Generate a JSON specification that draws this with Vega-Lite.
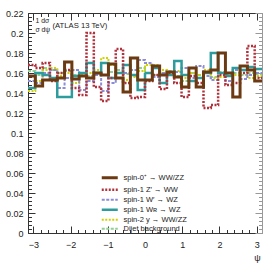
{
  "$schema": "https://vega.github.io/schema/vega-lite/v6.json",
  "width": 234,
  "height": 220,
  "autosize": {"type": "none"},
  "padding": {"left": 28, "top": 13, "right": 14, "bottom": 35},
  "background": "white",
  "config": {
    "view": {"stroke": null},
    "font": "Liberation Sans",
    "axis": {"grid": false, "labelFont": "Liberation Sans", "labelFontSize": 9, "labelColor": "#222", "tickColor": "#333", "domainColor": "#333", "domainWidth": 1, "tickWidth": 1, "labelFlush": false, "labelOverlap": false, "titleFont": "Liberation Sans", "titleFontWeight": "normal", "titleColor": "#222"},
    "legend": {"orient": "none", "legendX": 82, "legendY": 161, "title": null, "symbolType": "M-3,0H1", "symbolSize": 64, "labelFontSize": 7.5, "labelFont": "Liberation Sans", "labelColor": "#222", "rowPadding": 0, "padding": 0, "labelOffset": 6}
  },
  "data": {"values": [
    {"x": -3.1416, "a": 0.157, "b": 0.168, "c": 0.152, "d": 0.145, "e": 0.142, "f": 0.162},
    {"x": -2.9452, "a": 0.147, "b": 0.165, "c": 0.150, "d": 0.160, "e": 0.152, "f": 0.158},
    {"x": -2.7489, "a": 0.153, "b": 0.170, "c": 0.160, "d": 0.158, "e": 0.163, "f": 0.165},
    {"x": -2.5525, "a": 0.153, "b": 0.152, "c": 0.163, "d": 0.155, "e": 0.165, "f": 0.163},
    {"x": -2.3562, "a": 0.155, "b": 0.160, "c": 0.145, "d": 0.136, "e": 0.157, "f": 0.160},
    {"x": -2.1598, "a": 0.171, "b": 0.163, "c": 0.155, "d": 0.136, "e": 0.160, "f": 0.162},
    {"x": -1.9635, "a": 0.154, "b": 0.145, "c": 0.163, "d": 0.157, "e": 0.150, "f": 0.158},
    {"x": -1.7671, "a": 0.157, "b": 0.138, "c": 0.143, "d": 0.160, "e": 0.158, "f": 0.160},
    {"x": -1.5708, "a": 0.155, "b": 0.200, "c": 0.152, "d": 0.170, "e": 0.160, "f": 0.157},
    {"x": -1.3744, "a": 0.160, "b": 0.146, "c": 0.158, "d": 0.160, "e": 0.163, "f": 0.160},
    {"x": -1.1781, "a": 0.158, "b": 0.132, "c": 0.142, "d": 0.170, "e": 0.175, "f": 0.158},
    {"x": -0.9817, "a": 0.169, "b": 0.155, "c": 0.150, "d": 0.155, "e": 0.168, "f": 0.161},
    {"x": -0.7854, "a": 0.155, "b": 0.184, "c": 0.155, "d": 0.160, "e": 0.160, "f": 0.163},
    {"x": -0.589, "a": 0.141, "b": 0.150, "c": 0.160, "d": 0.168, "e": 0.153, "f": 0.159},
    {"x": -0.3927, "a": 0.175, "b": 0.135, "c": 0.163, "d": 0.158, "e": 0.156, "f": 0.157},
    {"x": -0.1963, "a": 0.153, "b": 0.136, "c": 0.173, "d": 0.143, "e": 0.162, "f": 0.165},
    {"x": 0, "a": 0.153, "b": 0.152, "c": 0.170, "d": 0.160, "e": 0.168, "f": 0.160},
    {"x": 0.1963, "a": 0.167, "b": 0.158, "c": 0.156, "d": 0.165, "e": 0.168, "f": 0.158},
    {"x": 0.3927, "a": 0.158, "b": 0.144, "c": 0.160, "d": 0.150, "e": 0.163, "f": 0.160},
    {"x": 0.589, "a": 0.161, "b": 0.160, "c": 0.158, "d": 0.158, "e": 0.158, "f": 0.162},
    {"x": 0.7854, "a": 0.156, "b": 0.150, "c": 0.161, "d": 0.172, "e": 0.162, "f": 0.157},
    {"x": 0.9817, "a": 0.146, "b": 0.136, "c": 0.165, "d": 0.158, "e": 0.155, "f": 0.152},
    {"x": 1.1781, "a": 0.165, "b": 0.157, "c": 0.155, "d": 0.152, "e": 0.160, "f": 0.160},
    {"x": 1.3744, "a": 0.146, "b": 0.150, "c": 0.167, "d": 0.155, "e": 0.158, "f": 0.158},
    {"x": 1.5708, "a": 0.161, "b": 0.125, "c": 0.157, "d": 0.160, "e": 0.163, "f": 0.160},
    {"x": 1.7671, "a": 0.163, "b": 0.128, "c": 0.153, "d": 0.180, "e": 0.155, "f": 0.156},
    {"x": 1.9635, "a": 0.180, "b": 0.158, "c": 0.160, "d": 0.160, "e": 0.156, "f": 0.161},
    {"x": 2.1598, "a": 0.160, "b": 0.148, "c": 0.152, "d": 0.157, "e": 0.160, "f": 0.159},
    {"x": 2.3562, "a": 0.136, "b": 0.150, "c": 0.163, "d": 0.165, "e": 0.158, "f": 0.160},
    {"x": 2.5525, "a": 0.167, "b": 0.160, "c": 0.154, "d": 0.163, "e": 0.160, "f": 0.158},
    {"x": 2.7489, "a": 0.163, "b": 0.187, "c": 0.158, "d": 0.166, "e": 0.155, "f": 0.160},
    {"x": 2.9452, "a": 0.152, "b": 0.155, "c": 0.160, "d": 0.164, "e": 0.157, "f": 0.159},
    {"x": 3.1416, "a": 0.152, "b": 0.155, "c": 0.160, "d": 0.164, "e": 0.157, "f": 0.159}
  ]},
  "transform": [{"fold": ["f", "e", "c", "d", "b", "a"], "as": ["s", "y"]}],
  "layer": [
    {
      "mark": {"type": "line", "interpolate": "step-after", "clip": true},
      "encoding": {
        "x": {"field": "x", "type": "quantitative",
          "scale": {"domain": [-3.1416, 3.1416], "nice": false, "zero": false},
          "axis": {"orient": "bottom", "values": [-3, -2, -1, 0, 1, 2, 3], "tickSize": -7, "labelPadding": 14,
            "title": "ψ", "titleFontSize": 9, "titleX": 229, "titleY": 24, "titleAlign": "center", "titleBaseline": "middle", "titleAnchor": null}},
        "y": {"field": "y", "type": "quantitative",
          "scale": {"domain": [0, 0.22], "nice": false, "zero": false},
          "axis": {"orient": "left", "values": [0, 0.02, 0.04, 0.06, 0.08, 0.1, 0.12, 0.14, 0.16, 0.18, 0.2, 0.22], "tickSize": -7, "labelPadding": 12,
            "labelExpr": "datum.value == 0 ? '0' : format(datum.value, '.2~f')",
            "title": ["1  dσ", "σ  dψ"], "titleAngle": 0, "titleX": 7, "titleY": 4, "titleAlign": "left", "titleBaseline": "top", "titleFontSize": 6.8, "titleLineHeight": 9}},
        "color": {"field": "s", "type": "nominal",
          "scale": {"domain": ["a", "b", "c", "d", "e", "f"], "range": ["#6b3a12", "#b0323c", "#8c8cd8", "#2e9c9c", "#d2d200", "#90d090"]},
          "legend": {
            "labelExpr": "{'a': 'spin-0⁺ → WW/ZZ', 'b': 'spin-1 Z′ → WW', 'c': 'spin-1 W′ → WZ', 'd': 'spin-1 Wʀ → WZ', 'e': 'spin-2 y → WW/ZZ', 'f': 'Dijet background'}[datum.label]",
            "encode": {"symbols": {"update": {"strokeWidth": {"signal": "datum.value == 'a' ? 3 : (datum.value == 'b' || datum.value == 'd') ? 2.5 : 2"}, "fill": {"value": "transparent"}}}}}},
        "strokeDash": {"field": "s", "type": "nominal",
          "scale": {"domain": ["a", "b", "c", "d", "e", "f"], "range": [[1, 0], [2, 1.5], [3, 1.5], [1, 0], [2, 1.5], [3, 1.5]]},
          "legend": {
            "labelExpr": "{'a': 'spin-0⁺ → WW/ZZ', 'b': 'spin-1 Z′ → WW', 'c': 'spin-1 W′ → WZ', 'd': 'spin-1 Wʀ → WZ', 'e': 'spin-2 y → WW/ZZ', 'f': 'Dijet background'}[datum.label]",
            "encode": {"symbols": {"update": {"strokeWidth": {"signal": "datum.value == 'a' ? 3 : (datum.value == 'b' || datum.value == 'd') ? 2.5 : 2"}, "fill": {"value": "transparent"}}}}}},
        "strokeWidth": {"condition": [{"test": "datum.s == 'a'", "value": 3}, {"test": "datum.s == 'b' || datum.s == 'd'", "value": 2.5}], "value": 2}
      }
    },
    {
      "mark": {"type": "point", "opacity": 0},
      "encoding": {
        "x": {"field": "x", "type": "quantitative",
          "axis": {"orient": "bottom", "values": [-3, -2.8, -2.6, -2.4, -2.2, -2, -1.8, -1.6, -1.4, -1.2, -1, -0.8, -0.6, -0.4, -0.2, 0, 0.2, 0.4, 0.6, 0.8, 1, 1.2, 1.4, 1.6, 1.8, 2, 2.2, 2.4, 2.6, 2.8, 3], "tickSize": -3.5, "labels": false, "domain": false, "title": null}},
        "y": {"field": "y", "type": "quantitative",
          "axis": {"orient": "left", "values": [0, 0.004, 0.008, 0.012, 0.016, 0.02, 0.024, 0.028, 0.032, 0.036, 0.04, 0.044, 0.048, 0.052, 0.056, 0.06, 0.064, 0.068, 0.072, 0.076, 0.08, 0.084, 0.088, 0.092, 0.096, 0.1, 0.104, 0.108, 0.112, 0.116, 0.12, 0.124, 0.128, 0.132, 0.136, 0.14, 0.144, 0.148, 0.152, 0.156, 0.16, 0.164, 0.168, 0.172, 0.176, 0.18, 0.184, 0.188, 0.192, 0.196, 0.2, 0.204, 0.208, 0.212, 0.216, 0.22], "tickSize": -3.5, "labels": false, "domain": false, "title": null}}
      }
    },
    {
      "mark": {"type": "point", "opacity": 0},
      "encoding": {
        "x": {"field": "x", "type": "quantitative",
          "axis": {"orient": "top", "values": [-3, -2, -1, 0, 1, 2, 3], "tickSize": -7, "labels": false, "domain": true, "title": null}},
        "y": {"field": "y", "type": "quantitative",
          "axis": {"orient": "right", "values": [0, 0.02, 0.04, 0.06, 0.08, 0.1, 0.12, 0.14, 0.16, 0.18, 0.2, 0.22], "tickSize": -7, "labels": false, "domain": true, "domainColor": "#999", "tickColor": "#999",
            "title": "(ATLAS 13 TeV)", "titleAngle": 0, "titleX": -210, "titleY": 12, "titleAlign": "left", "titleBaseline": "middle", "titleFontSize": 7.7}}
      }
    },
    {
      "mark": {"type": "point", "opacity": 0},
      "encoding": {
        "x": {"field": "x", "type": "quantitative",
          "axis": {"orient": "top", "values": [-3, -2.8, -2.6, -2.4, -2.2, -2, -1.8, -1.6, -1.4, -1.2, -1, -0.8, -0.6, -0.4, -0.2, 0, 0.2, 0.4, 0.6, 0.8, 1, 1.2, 1.4, 1.6, 1.8, 2, 2.2, 2.4, 2.6, 2.8, 3], "tickSize": -3.5, "labels": false, "domain": false, "title": null}},
        "y": {"field": "y", "type": "quantitative",
          "axis": {"orient": "right", "values": [0, 0.004, 0.008, 0.012, 0.016, 0.02, 0.024, 0.028, 0.032, 0.036, 0.04, 0.044, 0.048, 0.052, 0.056, 0.06, 0.064, 0.068, 0.072, 0.076, 0.08, 0.084, 0.088, 0.092, 0.096, 0.1, 0.104, 0.108, 0.112, 0.116, 0.12, 0.124, 0.128, 0.132, 0.136, 0.14, 0.144, 0.148, 0.152, 0.156, 0.16, 0.164, 0.168, 0.172, 0.176, 0.18, 0.184, 0.188, 0.192, 0.196, 0.2, 0.204, 0.208, 0.212, 0.216, 0.22], "tickSize": -3.5, "labels": false, "domain": false, "tickColor": "#999", "title": null}}
      }
    }
  ],
  "resolve": {"axis": {"x": "independent", "y": "independent"}}
}
